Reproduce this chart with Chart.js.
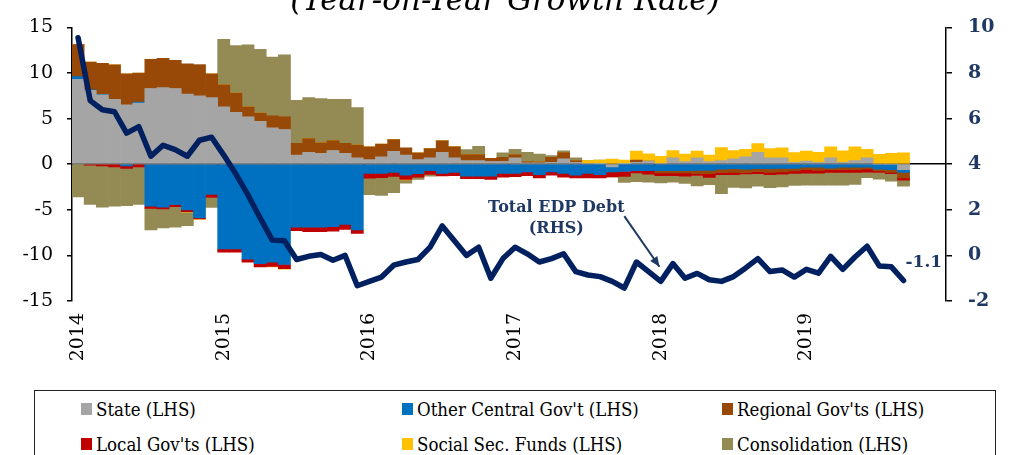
<!DOCTYPE html>
<html>
<head>
<meta charset="utf-8">
<script src="https://cdn.jsdelivr.net/npm/chart.js@4.4.1/dist/chart.umd.min.js"></script>
<style>
  body { margin: 0; background: #fff; overflow: hidden; }
  #wrap { position: relative; width: 1010px; height: 380px; }
  #legend {
    position: absolute; left: 34px; top: 390px; width: 962px; height: 90px;
    border: 1.5px solid #222; box-sizing: border-box;
    font-family: 'DejaVu Serif Condensed', 'DejaVu Serif', serif; font-stretch: condensed;
    font-size: 18.5px; color: #000;
  }
  .item { position: absolute; display: flex; align-items: center; white-space: nowrap; height: 22px; }
  .sw { width: 11px; height: 12px; margin-right: 4px; }
</style>
</head>
<body>
<div id="wrap"><canvas id="chart"></canvas></div>
<div id="legend"></div>
<script>
// months Jan 2014 .. Dec 2019 (axis), data runs Jan 2014 .. Sep 2019
const years = ['2014', '2015', '2016', '2017', '2018', '2019'];
const months = [];
years.forEach(y => { for (let m = 1; m <= 12; m++) months.push(y + '-' + m); });

// y/y growth contributions, pp (LHS)
const state = [
  9.3, 8.1, 7.6, 7.1, 6.5, 6.7, 8.3, 8.4, 8.3, 7.7, 7.5, 7.3,
  6.3, 5.7, 5.2, 4.7, 4.0, 3.8, 1.0, 1.3, 1.2, 1.5, 1.2, 0.7,
  0.5, 0.8, 1.4, 1.0, 0.5, 0.7, 1.3, 0.7, 0.4, 0.4, 0.3, 0.3,
  0.7, 0.15, 0.15, 0.2, 0.6, 0.2, 0.1, 0.05, -0.3, 0.05, 0.2, 0.35,
  0.1, 0.7, 0.3, 0.7, 0.3, 0.4, 0.6, 0.8, 1.3, 0.7, 0.7, 0.2,
  0.35, 0.2, 0.7, 0.2, 0.4, 0.7, 0, 0, -0.6
];
const otherCentral = [
  0.3, 0.05, 0.05, 0, -0.2, 0.1, -4.6, -4.7, -4.45, -5.0, -5.9, -3.3,
  -9.3, -9.3, -10.4, -10.9, -10.75, -11.0, -6.9, -6.9, -6.9, -6.85, -6.6, -7.2,
  -1.0, -1.0, -0.9, -1.2, -1.05, -0.7, -1.0, -0.9, -1.3, -1.3, -1.3, -1.0,
  -1.0, -0.85, -1.15, -0.85, -1.0, -1.2, -1.0, -1.15, -0.55, -0.8, -0.7, -0.7,
  -0.7, -0.7, -0.7, -0.68, -0.68, -0.55, -0.5, -0.55, -0.5, -0.5, -0.45, -0.45,
  -0.32, -0.32, -0.43, -0.32, -0.32, -0.32, -0.55, -0.6, -0.3
];
const regional = [
  3.5, 3.05, 3.4, 3.8, 3.4, 3.2, 3.2, 3.2, 3.1, 3.3, 3.4, 2.6,
  2.4, 2.1, 1.1, 0.9, 1.3, 1.4, 1.3, 1.5, 1.15, 1.1, 1.1, 1.4,
  1.4, 1.4, 1.3, 0.8, 0.75, 1.0, 1.25, 1.2, 0.65, 0.65, 0.35, 0.45,
  0.36, 0.15, 0.1, 0.54, 0.68, 0.2, 0, 0, 0, 0, 0.25, 0,
  -0.25, -0.25, -0.25, -0.36, -0.36, -0.36, -0.4, -0.36, -0.3, -0.4, -0.4, -0.3,
  -0.29, -0.36, -0.18, -0.29, -0.29, -0.2, -0.18, -0.29, -0.6
];
const local = [
  0, -0.1, -0.2, -0.3, -0.25, -0.3, -0.25, -0.2, -0.2, -0.2, -0.1, -0.35,
  -0.35, -0.35, -0.35, -0.35, -0.45, -0.45, -0.4, -0.5, -0.5, -0.5, -0.55, -0.4,
  -0.54, -0.47, -0.43, -0.47, -0.36, -0.43, -0.29, -0.36, -0.29, -0.29, -0.36, -0.43,
  -0.36, -0.4, -0.36, -0.36, -0.43, -0.3, -0.5, -0.36, -0.54, -0.54, -0.25, -0.4,
  -0.3, -0.3, -0.36, -0.2, -0.4, -0.25, -0.25, -0.15, -0.25, -0.25, -0.25, -0.25,
  -0.36, -0.29, -0.29, -0.29, -0.29, -0.36, -0.18, -0.15, -0.25
];
const socialSec = [
  0, 0, 0, 0, 0, 0, 0, 0, 0, -0.05, -0.05, 0,
  0, 0, 0, 0, -0.05, -0.05, 0, 0, 0, 0, 0, 0,
  0, 0, 0, -0.05, 0, 0, 0, 0, 0, 0, 0, 0,
  0, 0, 0, 0, 0, 0, 0.3, 0.4, 0.55, 0.4, 1.0, 0.8,
  0.75, 0.8, 0.8, 0.75, 0.7, 1.43, 0.9, 0.82, 0.97, 1.0, 1.1, 1.08,
  1.1, 1.1, 1.2, 1.27, 1.5, 0.93, 1.08, 1.18, 1.26
];
const consolidation = [
  -3.6, -4.3, -4.5, -4.3, -4.1, -4.1, -2.35, -2.1, -2.25, -1.5, 0, -1.1,
  5.0, 5.2, 6.8, 7.0, 6.45, 6.8, 4.7, 4.5, 4.85, 4.5, 4.8, 4.1,
  -1.8, -1.95, -1.8, -0.35, -0.25, -0.18, 0, 0, 0.55, 0.9, 0, 0.5,
  0.57, 1.0, 0.85, 0.21, 0.18, 0.3, 0, 0, 0, -0.65, -0.97, -0.86,
  -0.8, -0.72, -0.8, -1.15, -0.8, -2.08, -1.4, -1.55, -1.36, -1.43, -1.4, -1.33,
  -1.33, -1.33, -1.4, -1.4, -1.33, -0.6, -0.72, -0.82, -0.65
];
// Total EDP debt y/y growth, % (RHS)
const edpDebt = [
  9.55, 6.79, 6.39, 6.3, 5.36, 5.65, 4.35, 4.83, 4.64, 4.35, 5.05, 5.18,
  4.4, 3.57, 2.65, 1.64, 0.67, 0.64, -0.18, -0.04, 0.04, -0.21, 0.0, -1.33,
  -1.14, -0.95, -0.43, -0.29, -0.18, 0.36, 1.29, 0.64, 0.0, 0.36, -1.0, -0.14,
  0.36, 0.07, -0.29, -0.14, 0.07, -0.71, -0.86, -0.93, -1.14, -1.43, -0.29, -0.71,
  -1.14, -0.36, -1.0, -0.79, -1.07, -1.14, -0.93, -0.55, -0.14, -0.71, -0.64, -0.95,
  -0.61, -0.78, -0.04, -0.61, -0.07, 0.4, -0.46, -0.5, -1.1
];

const navy = '#002060';
const navyText = '#1F3864';
const serif = "'DejaVu Serif', serif";

const barSeries = [
  { label: 'State (LHS)', data: state, color: '#A5A5A5' },
  { label: "Other Central Gov't (LHS)", data: otherCentral, color: '#0070C0' },
  { label: "Regional Gov'ts (LHS)", data: regional, color: '#984807' },
  { label: "Local Gov'ts (LHS)", data: local, color: '#C00000' },
  { label: 'Social Sec. Funds (LHS)', data: socialSec, color: '#FFC000' },
  { label: 'Consolidation (LHS)', data: consolidation, color: '#948A54' }
];

// text + arrow on top of the plot
const notes = {
  id: 'notes',
  afterDatasetsDraw(chart) {
    const { ctx, scales: { x, y1 } } = chart;
    ctx.save();
    ctx.fillStyle = navyText;
    ctx.strokeStyle = navyText;
    ctx.textBaseline = 'middle';
    ctx.font = "bold 16px " + serif;
    ctx.textAlign = 'center';
    ctx.fillText('Total EDP Debt', x.getPixelForValue(39.4), y1.getPixelForValue(2.1));
    ctx.fillText('(RHS)', x.getPixelForValue(39.4), y1.getPixelForValue(1.15));

    const x0 = x.getPixelForValue(45.0), yA = y1.getPixelForValue(1.72);
    const x1 = x.getPixelForValue(47.9), yB = y1.getPixelForValue(-0.5);
    ctx.lineWidth = 2;
    ctx.beginPath(); ctx.moveTo(x0, yA); ctx.lineTo(x1, yB); ctx.stroke();
    const ang = Math.atan2(yB - yA, x1 - x0);
    ctx.beginPath();
    ctx.moveTo(x1, yB);
    ctx.lineTo(x1 - 11 * Math.cos(ang - 0.4), yB - 11 * Math.sin(ang - 0.4));
    ctx.lineTo(x1 - 11 * Math.cos(ang + 0.4), yB - 11 * Math.sin(ang + 0.4));
    ctx.closePath(); ctx.fill();

    const last = edpDebt.length - 1;
    ctx.font = "bold 17px " + serif;
    ctx.textAlign = 'left';
    ctx.fillText(edpDebt[last].toFixed(1), x.getPixelForValue(last) + 2, y1.getPixelForValue(edpDebt[last]) - 18);
    ctx.restore();
  }
};

const chart = new Chart(document.getElementById('chart'), {
  data: {
    labels: months,
    datasets: [
      {
        type: 'line', label: 'Total EDP Debt (RHS)', data: edpDebt, yAxisID: 'y1',
        borderColor: navy, borderWidth: 5.5, pointRadius: 0, tension: 0, order: 0,
        borderJoinStyle: 'round', borderCapStyle: 'round'
      },
      ...barSeries.map(s => ({
        type: 'bar', label: s.label, data: s.data, backgroundColor: s.color,
        borderWidth: 0, barPercentage: 1, categoryPercentage: 1, order: 1, yAxisID: 'y'
      }))
    ]
  },
  options: {
    responsive: true,
    maintainAspectRatio: false,
    animation: false,
    layout: { padding: 0 },
    plugins: {
      legend: { display: false },
      tooltip: { enabled: false },
      title: {
        display: true,
        text: '(Year-on-Year Growth Rate)',
        color: '#000',
        font: { family: serif, size: 31, style: 'italic', weight: 'normal', lineHeight: 1.2 },
        padding: { top: -21.6, bottom: 6.4 }
      }
    },
    scales: {
      x: {
        stacked: true,
        offset: true,
        grid: { display: false },
        border: { display: false },
        ticks: {
          autoSkip: false, minRotation: 90, maxRotation: 90, padding: 4,
          color: '#000', font: { family: serif, size: 19 },
          callback: (v, i) => (i % 12 === 0 ? months[i].slice(0, 4) : '')
        },
        afterFit: s => { s.height = 79; }
      },
      x2: {
        type: 'category',
        position: { y: 0 },
        offset: true,
        z: 1,
        grid: {
          offset: true, drawOnChartArea: false, drawTicks: true, tickLength: 6, lineWidth: 1.5,
          color: c => (c.index % 12 === 0 ? '#000' : 'rgba(0,0,0,0)')
        },
        border: { display: true, color: '#000', width: 1.5 },
        ticks: { display: false }
      },
      y: {
        stacked: true,
        position: 'left',
        min: -15, max: 15,
        ticks: { stepSize: 5, padding: 14, color: '#000', font: { family: serif, size: 19 } },
        grid: { drawOnChartArea: false, drawTicks: true, tickLength: 5, color: '#000', lineWidth: 1.5 },
        border: { color: '#000', width: 1.5 },
        afterFit: s => { s.width = 72; }
      },
      y1: {
        position: 'right',
        min: -2, max: 10,
        ticks: { stepSize: 2, padding: 16, color: navyText, font: { family: serif, size: 19, weight: 'bold' } },
        grid: { drawOnChartArea: false, drawTicks: true, tickLength: 6, color: '#000', lineWidth: 1.5 },
        border: { color: '#000', width: 1.5 },
        afterFit: s => { s.width = 64; }
      }
    }
  },
  plugins: [notes]
});

// legend box, three columns
const legendEl = document.getElementById('legend');
const colX = [46, 367, 687];
const rowY = [7, 42];
barSeries.forEach((s, i) => {
  const d = document.createElement('div');
  d.className = 'item';
  d.style.left = colX[i % 3] + 'px';
  d.style.top = rowY[Math.floor(i / 3)] + 'px';
  d.innerHTML = '<span class="sw" style="background:' + s.color + '"></span><span>' + s.label + '</span>';
  legendEl.appendChild(d);
});
</script>
</body>
</html>
